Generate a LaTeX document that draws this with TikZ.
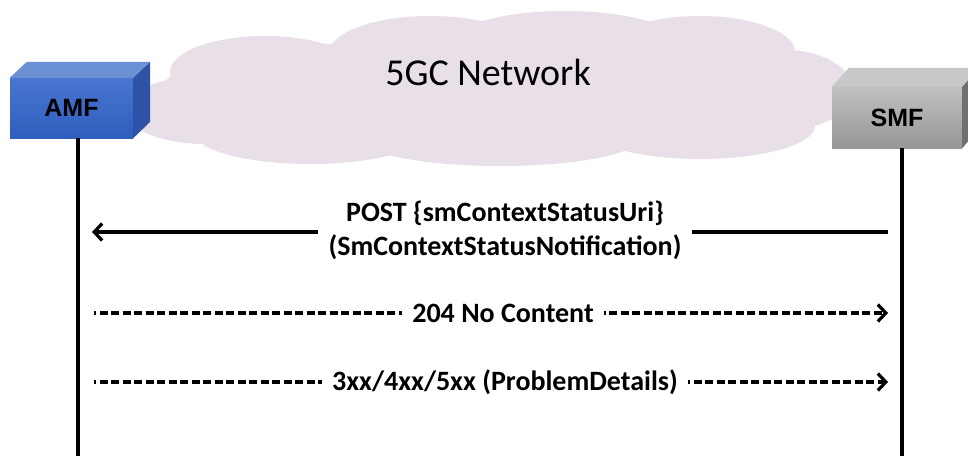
\documentclass[tikz,border=0pt]{standalone}
\usepackage{fontspec}
\setmainfont{Carlito}
\newfontfamily\arialfont{Liberation Sans}
\usetikzlibrary{arrows.meta}
\definecolor{cloudc}{RGB}{232,223,232}
\definecolor{amftop}{RGB}{108,144,212}
\definecolor{amffrontA}{RGB}{72,118,208}
\definecolor{amffrontB}{RGB}{46,94,190}
\definecolor{amfside}{RGB}{46,82,165}
\definecolor{smftop}{RGB}{200,200,200}
\definecolor{smffrontA}{RGB}{192,192,192}
\definecolor{smffrontB}{RGB}{150,150,150}
\definecolor{smfside}{RGB}{112,112,112}
\begin{document}
\begin{tikzpicture}[x=1pt,y=-1pt,
  nfbox/.style={minimum width=123pt,minimum height=60pt,inner sep=0pt,
    font=\arialfont\bfseries\fontsize{25}{28}\selectfont},
  lbl/.style={font=\bfseries\fontsize{28}{34}\selectfont,align=center,inner ysep=0pt,inner xsep=10pt},
  life/.style={line width=3.8pt},
  solidmsg/.style={line width=3.2pt},
  dashmsg/.style={line width=3.2pt,dash pattern=on 8pt off 3.5pt,dash phase=6pt},
  tip/.style={-{Straight Barb[length=8pt,width=17pt,line width=3.2pt]}}]
\useasboundingbox (0,0) rectangle (968,456);
% cloud
\fill[cloudc] (488,92) ellipse [x radius=330, y radius=55];
\fill[cloudc] (265,72) ellipse [x radius=95, y radius=36];
\fill[cloudc] (430,52) ellipse [x radius=100, y radius=36];
\fill[cloudc] (565,44) ellipse [x radius=115, y radius=33];
\fill[cloudc] (700,52) ellipse [x radius=95, y radius=36];
\fill[cloudc] (785,90) ellipse [x radius=68, y radius=40];
\fill[cloudc] (205,110) ellipse [x radius=80, y radius=34];
\fill[cloudc] (310,133) ellipse [x radius=115, y radius=31];
\fill[cloudc] (500,138) ellipse [x radius=140, y radius=28];
\fill[cloudc] (700,126) ellipse [x radius=115, y radius=33];
\node (net) at (488,72) {\fontsize{38}{44}\selectfont 5GC Network};
% AMF box
\node[nfbox,top color=amffrontA,bottom color=amffrontB] (amf) at (71.5,108) {AMF};
\fill[amftop] (amf.north west) -- ++(17,-16) -- ++(123,0) -- (amf.north east) -- cycle;
\fill[amfside] (amf.north east) -- ++(17,-16) -- ++(0,60) -- (amf.south east) -- cycle;
% SMF box
\node[nfbox,minimum width=130pt,minimum height=61pt,top color=smffrontA,bottom color=smffrontB] (smf) at (897,117.5) {SMF};
\fill[smftop] (smf.north west) -- ++(17,-19) -- ++(130,0) -- (smf.north east) -- cycle;
\fill[smfside] (smf.north east) -- ++(17,-19) -- ++(0,61) -- (smf.south east) -- cycle;
% lifelines
\coordinate (amfend) at (78,456);
\coordinate (smfend) at (902,456);
\draw[life] ([xshift=6.5pt]amf.south) -- (amfend);
\draw[life] ([xshift=5pt]smf.south) -- (smfend);
% messages
\coordinate (a1) at (92,232);  \coordinate (s1) at (888,232);
\coordinate (a2) at (94,313);  \coordinate (s2) at (888,313);
\coordinate (a3) at (94,382);  \coordinate (s3) at (888,382);
\node[lbl] (m1) at (505,230) {POST \{smContextStatusUri\}\\(SmContextStatusNotification)};
\node[lbl] (m2) at (503,313) {204 No Content};
\node[lbl] (m3) at (505,382) {3xx/4xx/5xx (ProblemDetails)};
\draw[solidmsg,tip] (m1.west |- a1) -- (a1);
\draw[solidmsg] (m1.east |- s1) -- (s1);
\draw[dashmsg] (a2) -- (m2.west);
\draw[dashmsg,tip] (m2.east) -- (s2);
\draw[dashmsg] (a3) -- (m3.west);
\draw[dashmsg,tip] (m3.east) -- (s3);
\end{tikzpicture}
\end{document}
